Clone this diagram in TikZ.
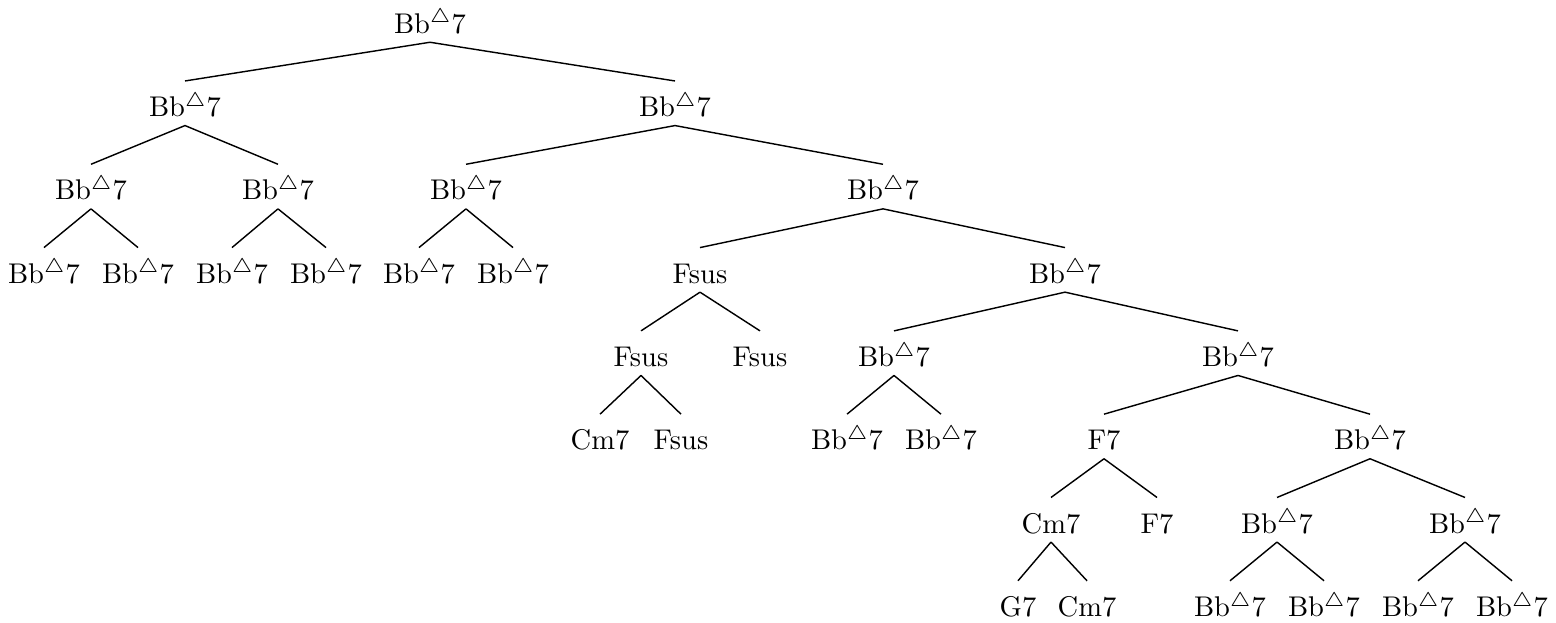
\documentclass[tikz,border=0pt]{standalone}
\begin{document}
\begin{tikzpicture}[x=0.351pt,y=-0.351pt,
  chord/.style={anchor=base,inner sep=0pt,text height=12.3pt,text depth=2.95pt},
  edge/.style={line width=0.5pt}]
\useasboundingbox (0,0) rectangle (1556,623);
\newcommand{\BB}{Bb$^{\triangle}$7}
% level 0
\node[chord] (r) at (430,33.3) {\BB};
% level 1
\node[chord] (a) at (185,116.6) {\BB};
\node[chord] (b) at (675,116.6) {\BB};
% level 2
\node[chord] (aa) at (91,199.9) {\BB};
\node[chord] (ab) at (278,199.9) {\BB};
\node[chord] (ba) at (466,199.9) {\BB};
\node[chord] (bb) at (883,199.9) {\BB};
% level 3
\node[chord] (aaa) at (44,283.2) {\BB};
\node[chord] (aab) at (138,283.2) {\BB};
\node[chord] (aba) at (232,283.2) {\BB};
\node[chord] (abb) at (326,283.2) {\BB};
\node[chord] (baa) at (419,283.2) {\BB};
\node[chord] (bab) at (513,283.2) {\BB};
\node[chord] (bba) at (700,283.2) {Fsus};
\node[chord] (bbb) at (1065,283.2) {\BB};
% level 4
\node[chord] (bbaa) at (641,366.5) {Fsus};
\node[chord] (bbab) at (760,366.5) {Fsus};
\node[chord] (bbba) at (894,366.5) {\BB};
\node[chord] (bbbb) at (1238,366.5) {\BB};
% level 5
\node[chord] (c1) at (600,449.8) {Cm7};
\node[chord] (c2) at (681,449.8) {Fsus};
\node[chord] (c3) at (847,449.8) {\BB};
\node[chord] (c4) at (941,449.8) {\BB};
\node[chord] (c5) at (1104,449.8) {F7};
\node[chord] (c6) at (1370,449.8) {\BB};
% level 6
\node[chord] (d1) at (1051,533.1) {Cm7};
\node[chord] (d2) at (1157,533.1) {F7};
\node[chord] (d3) at (1277,533.1) {\BB};
\node[chord] (d4) at (1465,533.1) {\BB};
% level 7
\node[chord] (e1) at (1018,616.4) {G7};
\node[chord] (e2) at (1087,616.4) {Cm7};
\node[chord] (e3) at (1230,616.4) {\BB};
\node[chord] (e4) at (1324,616.4) {\BB};
\node[chord] (e5) at (1418,616.4) {\BB};
\node[chord] (e6) at (1512,616.4) {\BB};
% edges
\foreach \p/\c in {r/a,r/b,a/aa,a/ab,b/ba,b/bb,aa/aaa,aa/aab,ab/aba,ab/abb,
  ba/baa,ba/bab,bb/bba,bb/bbb,bba/bbaa,bba/bbab,bbb/bbba,bbb/bbbb,
  bbaa/c1,bbaa/c2,bbba/c3,bbba/c4,bbbb/c5,bbbb/c6,c5/d1,c5/d2,c6/d3,c6/d4,
  d1/e1,d1/e2,d3/e3,d3/e4,d4/e5,d4/e6}
  \draw[edge] (\p.south) -- (\c.north);
\end{tikzpicture}
\end{document}
